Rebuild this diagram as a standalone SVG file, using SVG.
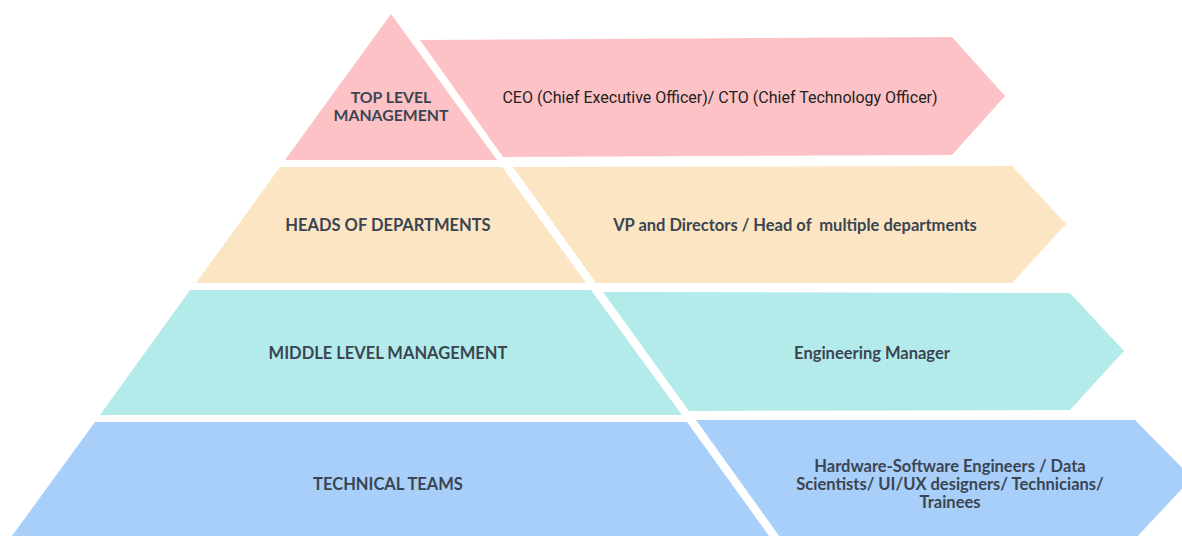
<svg xmlns="http://www.w3.org/2000/svg" width="1182" height="536" viewBox="0 0 1182 536">
<style>
.pink{fill:#FDC2C5}
.beige{fill:#FCE5C2}
.cyan{fill:#B3EBEB}
.blue{fill:#A8CFFA}
.lbl{font-family:Lato,"Liberation Sans",sans-serif;font-weight:bold;font-size:16.5px;fill:#3B4552;text-anchor:middle;white-space:pre}
.top{font-size:15.8px}
.ceo{font-family:Roboto,"Liberation Sans",sans-serif;font-size:16px;fill:#222;text-anchor:middle}
</style>
<rect width="1182" height="536" fill="#ffffff"/>
<g id="top-level">
<polygon class="pink" points="391,14 285,160 497,160"/>
<text class="lbl top" x="391" y="103">TOP LEVEL</text>
<text class="lbl top" x="391" y="121">MANAGEMENT</text>
</g>
<g id="ceo">
<polygon class="pink" points="420,40 952,37 1005,96 952,155 503,157"/>
<text class="ceo" x="720" y="103">CEO (Chief Executive Officer)/ CTO (Chief Technology Officer)</text>
</g>
<g id="heads">
<polygon class="beige" points="280,167 502,167 586,283 196,283"/>
<text class="lbl" x="388" y="231">HEADS OF DEPARTMENTS</text>
</g>
<g id="vp">
<polygon class="beige" points="513,167 1012,166 1066,224 1012,283 596,283"/>
<text class="lbl" x="795" y="231">VP and Directors / Head of  multiple departments</text>
</g>
<g id="middle">
<polygon class="cyan" points="190,290 591,290 682,415 100,415"/>
<text class="lbl" x="388" y="359">MIDDLE LEVEL MANAGEMENT</text>
</g>
<g id="eng-manager">
<polygon class="cyan" points="603,292 1070,293 1124,351 1070,410 689,411"/>
<text class="lbl" x="872" y="359">Engineering Manager</text>
</g>
<g id="technical">
<polygon class="blue" points="95,422 687,422 772,540 9,540"/>
<text class="lbl" x="388" y="490">TECHNICAL TEAMS</text>
</g>
<g id="engineers">
<polygon class="blue" points="696,420 1135,420 1192,478 1134,540 782,540"/>
<text class="lbl" x="950" y="472">Hardware-Software Engineers / Data</text>
<text class="lbl" x="950" y="490">Scientists/ UI/UX designers/ Technicians/</text>
<text class="lbl" x="950" y="508">Trainees</text>
</g>
<g id="connectors"></g>
</svg>
